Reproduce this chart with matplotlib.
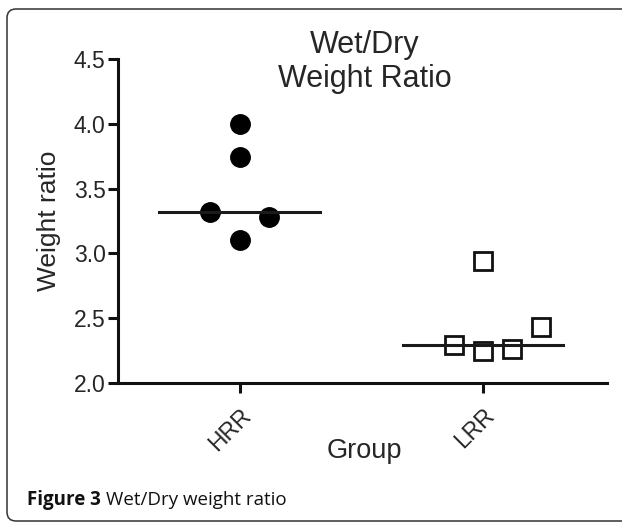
import matplotlib
matplotlib.use("Agg")
from matplotlib import pyplot as plt
from matplotlib.patches import FancyBboxPatch
from matplotlib.transforms import IdentityTransform
import numpy as np

# Data
groups = ["HRR", "LRR"]
hrr_values = [3.32, 4.00, 3.74, 3.10, 3.28]
lrr_values = [2.29, 2.25, 2.94, 2.26, 2.43]
# horizontal scatter slot of each point (multiples of the jitter step)
hrr_slots = [-1, 0, 0, 0, 1]
lrr_slots = [-1, 0, 0, 1, 2]
y_ticks = [2.0, 2.5, 3.0, 3.5, 4.0, 4.5]

W, H = 622, 522
fig = plt.figure(figsize=(W / 100, H / 100), dpi=100)
plt.rcParams["font.family"] = ["Liberation Sans", "DejaVu Sans"]

# axes placed in pixel terms
left, right, top, bottom = 118, 607, 59, 383
ax = fig.add_axes([left / W, (H - bottom) / H, (right - left) / W, (bottom - top) / H])

txt = "#262626"
step = 0.12
half = 0.33

ax.plot(1 + step * np.array(hrr_slots), hrr_values, "o", color="black",
        markersize=14, clip_on=False)
ax.plot(2 + step * np.array(lrr_slots), lrr_values, "s", markerfacecolor="white",
        markeredgecolor="#111111", markeredgewidth=2.0, markersize=13.5, clip_on=False)

for pos, vals in zip([1, 2], [hrr_values, lrr_values]):
    m = np.median(vals)
    ax.plot([pos - half, pos + half], [m, m], color="#1a1a1a", linewidth=2.2)

ax.set_xlim(0.5, 2.51)
ax.set_ylim(2.0, 4.5)
ax.set_yticks(y_ticks)
ax.set_yticklabels([f"{v:.1f}" for v in y_ticks], fontsize=16.5, color=txt)
ax.set_xticks([1, 2])
ax.set_xticklabels(groups, fontsize=16.5, color=txt, rotation=45, ha="right",
                   rotation_mode="anchor")

for s in ["top", "right"]:
    ax.spines[s].set_visible(False)
for s in ["left", "bottom"]:
    ax.spines[s].set_linewidth(2.2)
    ax.spines[s].set_color("#111111")
ax.tick_params(length=7, width=2.2, color="#111111", pad=2)
ax.tick_params(axis="x", pad=8)

ax.set_ylabel("Weight ratio", fontsize=19, color=txt, labelpad=9)

# title and x label
fig.text(365 / W, 1 - 62 / H, "Wet/Dry\nWeight Ratio", ha="center", va="center",
         fontsize=22, color=txt, linespacing=1.15)
fig.text(364 / W, 1 - 451 / H, "Group", ha="center", va="center", fontsize=19.5, color=txt)

# caption under the chart
cap = fig.text(27 / W, 1 - 505 / H, "Figure 3", ha="left", va="baseline",
               fontsize=13.5, fontweight="bold", family="Open Sans", color="#111111")
renderer = fig.canvas.get_renderer()
bb = cap.get_window_extent(renderer)
fig.text((bb.x1 + 5) / W, 1 - 505 / H, "Wet/Dry weight ratio", ha="left", va="baseline",
         fontsize=13.5, family="Open Sans", color="#111111")

# rounded frame around the figure
frame = FancyBboxPatch((7, 1), 660, 512, boxstyle="round,pad=0,rounding_size=9",
                       transform=IdentityTransform(), facecolor="none",
                       edgecolor="#333333", linewidth=1.1)
fig.patches.append(frame)

fig.savefig("out.png", dpi=100)
